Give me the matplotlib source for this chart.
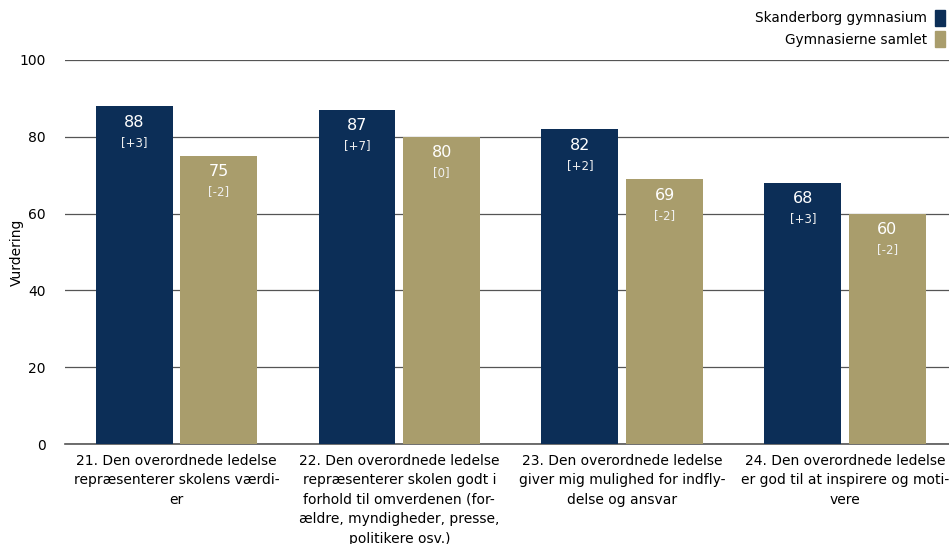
import matplotlib.pyplot as plt
import numpy as np
from matplotlib.patches import Patch

plt.rcParams['font.family'] = ['DejaVu Sans']

categories = [
    "21. Den overordnede ledelse\nrepræsenterer skolens værdi-\ner",
    "22. Den overordnede ledelse\nrepræsenterer skolen godt i\nforhold til omverdenen (for-\nældre, myndigheder, presse,\npolitikere osv.)",
    "23. Den overordnede ledelse\ngiver mig mulighed for indfly-\ndelse og ansvar",
    "24. Den overordnede ledelse\ner god til at inspirere og moti-\nvere",
]
skanderborg = [88, 87, 82, 68]
skanderborg_diff = ["[+3]", "[+7]", "[+2]", "[+3]"]
samlet = [75, 80, 69, 60]
samlet_diff = ["[-2]", "[0]", "[-2]", "[-2]"]

navy = "#0c2e57"
khaki = "#a99d6c"

fig = plt.figure(figsize=(9.49, 5.44), dpi=100)
ax = fig.add_axes([65 / 949, 100 / 544, 884 / 949, 384 / 544])

x = np.arange(len(categories))
w = 0.345
off = 0.19
b1 = ax.bar(x - off, skanderborg, w, color=navy, zorder=3)
b2 = ax.bar(x + off, samlet, w, color=khaki, zorder=3)

for bars, vals, diffs in [(b1, skanderborg, skanderborg_diff), (b2, samlet, samlet_diff)]:
    for bar, v, d in zip(bars, vals, diffs):
        cx = bar.get_x() + bar.get_width() / 2
        ax.annotate(str(v), (cx, v), xytext=(0, -16), textcoords="offset pixels",
                    ha="center", va="center", color="white", fontsize=11.5, zorder=4)
        ax.annotate(d, (cx, v), xytext=(0, -36), textcoords="offset pixels",
                    ha="center", va="center", color="#f0f0f0", fontsize=8.5, zorder=4)

ax.set_ylim(0, 100)
ax.set_xlim(-0.5, 3.466)
ax.set_yticks([0, 20, 40, 60, 80, 100])
ax.yaxis.grid(True, color="#555555", linewidth=0.9, zorder=0)
ax.axhline(0, color="#555555", linewidth=1.2, zorder=2, clip_on=False)
ax.set_axisbelow(True)
ax.tick_params(axis="both", length=0, labelsize=10, colors="#000000")
ax.tick_params(axis="y", pad=14)
ax.set_xticks(x)
ax.set_xticklabels(categories, fontsize=10, linespacing=1.5)
ax.tick_params(axis="x", pad=7)
for s in ["top", "right", "left", "bottom"]:
    ax.spines[s].set_visible(False)
ax.set_ylabel("Vurdering", fontsize=10)
ax.yaxis.set_label_coords(-41 / 884, 0.5)

ax.legend(handles=[Patch(color=navy, label="Skanderborg gymnasium"),
                   Patch(color=khaki, label="Gymnasierne samlet")],
          loc="upper right", bbox_to_anchor=(1.0, 1 - 6 / 544), bbox_transform=fig.transFigure,
          frameon=False, markerfirst=False, fontsize=9.8, handlelength=0.75,
          handleheight=1.4, handletextpad=0.55, labelspacing=0.4, borderpad=0.2,
          borderaxespad=0.1)

fig.savefig("out.png", dpi=100)
